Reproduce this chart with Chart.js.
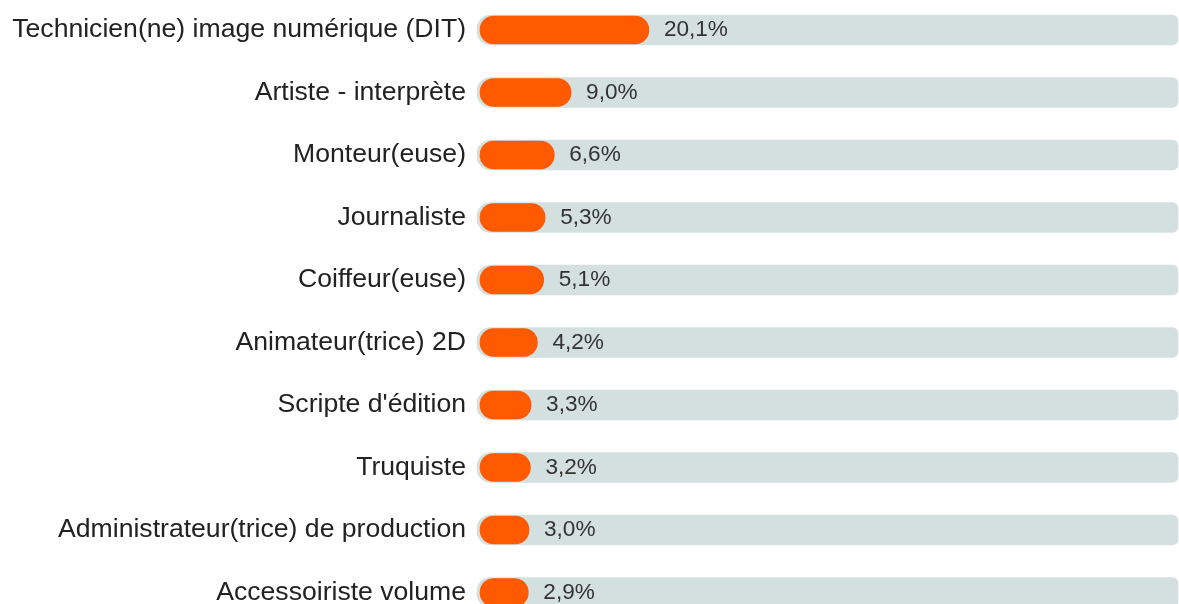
<!DOCTYPE html>
<html lang="fr">
  <head>
    <meta charset="UTF-8" />
    <meta name="viewport" content="width=device-width, initial-scale=1.0" />
    <script src="https://cdn.jsdelivr.net/npm/chart.js@4.4.1/dist/chart.umd.min.js"></script>
    <title>Métiers</title>
    <style>
      html,
      body {
        margin: 0;
        padding: 0;
        background-color: #ffffff;
        overflow: hidden;
      }

      canvas {
        display: block;
      }
    </style>
  </head>
  <body>
    <canvas id="myChart" width="1179" height="604"></canvas>
    <script>
      const jobs = [
        "Technicien(ne) image numérique (DIT)",
        "Artiste - interprète",
        "Monteur(euse)",
        "Journaliste",
        "Coiffeur(euse)",
        "Animateur(trice) 2D",
        "Scripte d'édition",
        "Truquiste",
        "Administrateur(trice) de production",
        "Accessoiriste volume",
      ];
      const shares = [20.1, 9.0, 6.6, 5.3, 5.1, 4.2, 3.3, 3.2, 3.0, 2.9];
      const trackMax = 100;

      // the orange pill has round caps that add width on top of the value
      const capStart = 0.43;
      const capEnd = 4.42;

      const font = "'Liberation Sans', Arial, sans-serif";

      const valueLabels = {
        id: "valueLabels",
        afterDatasetsDraw(chart) {
          const ctx = chart.ctx;
          const meta = chart.getDatasetMeta(0);
          ctx.save();
          ctx.font = "22.6px " + font;
          ctx.fillStyle = "#333333";
          ctx.textAlign = "left";
          ctx.textBaseline = "middle";
          meta.data.forEach((bar, i) => {
            const txt = shares[i].toFixed(1).replace(".", ",") + "%";
            ctx.fillText(txt, bar.x + 15, bar.y);
          });
          ctx.restore();
        },
      };

      const ctx = document.getElementById("myChart").getContext("2d");
      new Chart(ctx, {
        type: "bar",
        data: {
          labels: jobs,
          datasets: [
            {
              data: shares.map((v) => [capStart, v + capEnd]),
              backgroundColor: "#ff5a00",
              borderRadius: 14,
              borderSkipped: false,
              barThickness: 28,
              grouped: false,
              clip: false,
              order: 0,
            },
            {
              data: shares.map(() => trackMax),
              backgroundColor: "#d4dfdf",
              borderRadius: { topLeft: 14, bottomLeft: 14, topRight: 6, bottomRight: 6 },
              borderSkipped: false,
              barThickness: 30,
              grouped: false,
              clip: false,
              order: 1,
            },
          ],
        },
        options: {
          indexAxis: "y",
          responsive: false,
          animation: false,
          layout: {
            padding: { top: 30, bottom: 11.5, left: 0, right: 1 },
          },
          plugins: {
            legend: { display: false },
            tooltip: { enabled: false },
          },
          scales: {
            x: {
              display: false,
              min: 0,
              max: trackMax,
            },
            y: {
              offset: false,
              grid: { display: false, drawTicks: false },
              border: { display: false },
              ticks: {
                padding: 11,
                color: "#222222",
                font: { family: font, size: 26.6 },
              },
              afterFit(scale) {
                scale.width = 477;
                scale.paddingTop = 0;
                scale.paddingBottom = 0;
              },
            },
          },
        },
        plugins: [valueLabels],
      });
    </script>
  </body>
</html>
